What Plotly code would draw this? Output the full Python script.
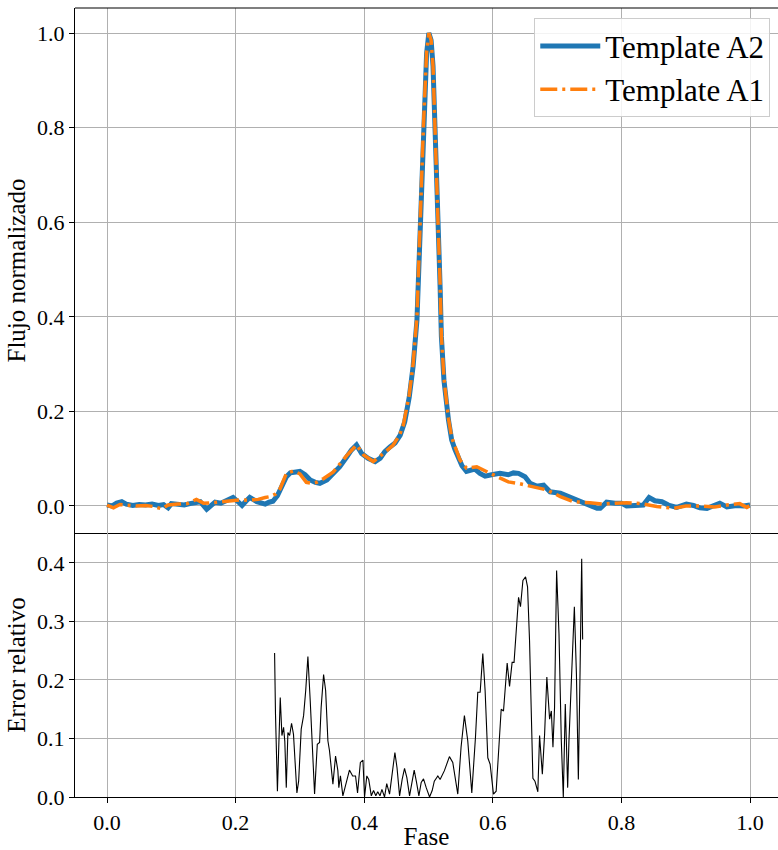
import plotly.graph_objects as go

# ---------------- data ----------------
phase_a2 = [0.000, 0.008, 0.015, 0.023, 0.030, 0.040, 0.050, 0.060, 0.070, 0.080,
            0.088, 0.095, 0.100, 0.110, 0.120, 0.129, 0.137, 0.145, 0.155, 0.162,
            0.168, 0.177, 0.186, 0.196, 0.203, 0.210, 0.216, 0.222, 0.233, 0.240,
            0.246, 0.252, 0.258, 0.265, 0.272, 0.279, 0.285, 0.290, 0.300, 0.308,
            0.316, 0.324, 0.331, 0.342, 0.352, 0.362, 0.373, 0.380, 0.388, 0.396,
            0.406, 0.417, 0.425, 0.432, 0.440, 0.448, 0.456, 0.463, 0.470, 0.476,
            0.482, 0.484, 0.487, 0.489, 0.492, 0.4946, 0.497, 0.5005, 0.504, 0.507,
            0.510, 0.513, 0.515, 0.518, 0.520, 0.524, 0.531, 0.536, 0.541, 0.546,
            0.552, 0.559, 0.567, 0.572, 0.580, 0.588, 0.598, 0.611, 0.624, 0.632,
            0.640, 0.650, 0.658, 0.668, 0.679, 0.689, 0.705, 0.720, 0.736, 0.751,
            0.762, 0.767, 0.777, 0.790, 0.800, 0.808, 0.824, 0.834, 0.843, 0.852,
            0.863, 0.873, 0.886, 0.901, 0.912, 0.922, 0.933, 0.943, 0.953, 0.964,
            0.979, 0.990, 1.000]
flux_a2 = [0.002, 0.000, 0.006, 0.009, 0.004, 0.001, 0.003, 0.002, 0.004, 0.001,
           0.003, -0.004, 0.005, 0.003, 0.002, 0.005, 0.006, 0.009, -0.007, 0.003,
           0.008, 0.006, 0.011, 0.018, 0.010, 0.001, 0.010, 0.018, 0.009, 0.006,
           0.004, 0.008, 0.010, 0.022, 0.041, 0.062, 0.070, 0.071, 0.073, 0.066,
           0.055, 0.050, 0.048, 0.055, 0.069, 0.083, 0.104, 0.118, 0.129, 0.111,
           0.101, 0.094, 0.101, 0.115, 0.125, 0.133, 0.150, 0.178, 0.230, 0.295,
           0.393, 0.464, 0.577, 0.675, 0.795, 0.886, 0.957, 1.000, 0.985, 0.930,
           0.816, 0.710, 0.590, 0.464, 0.358, 0.266, 0.182, 0.140, 0.120, 0.105,
           0.085, 0.073, 0.076, 0.078, 0.069, 0.063, 0.066, 0.069, 0.066, 0.070,
           0.069, 0.062, 0.048, 0.042, 0.044, 0.030, 0.027, 0.018, 0.009, 0.000,
           -0.005, -0.005, 0.008, 0.006, 0.006, 0.000, 0.000, 0.002, 0.018, 0.011,
           0.009, 0.002, -0.003, 0.004, 0.001, -0.004, -0.005, 0.000, 0.006, -0.002,
           0.001, 0.000, 0.002]

phase_a1 = [0.000, 0.010, 0.020, 0.030, 0.045, 0.060, 0.072, 0.085, 0.095, 0.110,
            0.125, 0.139, 0.150, 0.165, 0.180, 0.195, 0.207, 0.220, 0.235, 0.246,
            0.254, 0.262, 0.269, 0.279, 0.290, 0.300, 0.310, 0.318, 0.326, 0.337,
            0.352, 0.373, 0.388, 0.399, 0.414, 0.430, 0.445, 0.455, 0.461, 0.470,
            0.476, 0.482, 0.484, 0.487, 0.489, 0.492, 0.4946, 0.497, 0.5005, 0.504,
            0.507, 0.510, 0.513, 0.515, 0.518, 0.520, 0.524, 0.531, 0.536, 0.541,
            0.549, 0.559, 0.575, 0.590, 0.606, 0.624, 0.642, 0.663, 0.684, 0.705,
            0.725, 0.751, 0.772, 0.790, 0.808, 0.830, 0.855, 0.881, 0.900, 0.925,
            0.945, 0.964, 0.984, 0.995, 1.000]
flux_a1 = [0.002, -0.004, 0.003, 0.002, 0.000, 0.001, -0.001, -0.006, 0.002, 0.004,
           0.005, 0.014, 0.006, 0.007, 0.009, 0.012, 0.013, 0.012, 0.014, 0.018,
           0.020, 0.025, 0.036, 0.069, 0.074, 0.068, 0.050, 0.048, 0.050, 0.058,
           0.072, 0.107, 0.129, 0.108, 0.094, 0.111, 0.129, 0.150, 0.172, 0.235,
           0.300, 0.400, 0.470, 0.580, 0.680, 0.800, 0.890, 0.960, 1.000, 0.985,
           0.930, 0.820, 0.710, 0.590, 0.470, 0.360, 0.270, 0.185, 0.145, 0.126,
           0.097, 0.080, 0.083, 0.073, 0.063, 0.051, 0.047, 0.040, 0.034, 0.020,
           0.009, 0.007, 0.004, 0.006, 0.007, 0.005, -0.001, -0.005, 0.000, 0.000,
           -0.002, 0.002, 0.005, -0.003, 0.001]

phase_err = [0.2606, 0.262, 0.265, 0.2694, 0.272, 0.2746, 0.2765, 0.2788, 0.2813, 0.284,
             0.287, 0.290, 0.2953, 0.298, 0.302, 0.3057, 0.309, 0.3124, 0.316, 0.3228,
             0.327, 0.3306, 0.333, 0.3368, 0.340, 0.3435, 0.346, 0.3513, 0.3554, 0.359,
             0.3605, 0.363, 0.3668, 0.371, 0.377, 0.382, 0.3865, 0.3896, 0.394, 0.398,
             0.4005, 0.404, 0.407, 0.411, 0.4145, 0.418, 0.421, 0.4245, 0.4275, 0.4316,
             0.435, 0.4394, 0.4435, 0.4477, 0.451, 0.455, 0.459, 0.4627, 0.4663, 0.4705,
             0.4746, 0.4777, 0.481, 0.485, 0.4886, 0.4922, 0.4964, 0.5016, 0.5057, 0.509,
             0.5145, 0.518, 0.5247, 0.5325, 0.5377, 0.5455, 0.5506, 0.5558, 0.561, 0.5673,
             0.573, 0.5766, 0.5803, 0.5844, 0.588, 0.5922, 0.5958, 0.601, 0.6052, 0.6094,
             0.613, 0.6166, 0.6197, 0.6223, 0.626, 0.630, 0.633, 0.6364, 0.640, 0.643,
             0.6468, 0.6509, 0.654, 0.6571, 0.660, 0.6623, 0.6655, 0.670, 0.6727, 0.677,
             0.6805, 0.684, 0.6883, 0.691, 0.6935, 0.696, 0.6992, 0.7029, 0.7065, 0.7096,
             0.7127, 0.7164, 0.7184, 0.7226, 0.7268, 0.730, 0.733, 0.7356, 0.7382, 0.7397]
err = [0.246, 0.142, 0.010, 0.170, 0.105, 0.119, 0.095, 0.016, 0.110, 0.105,
       0.126, 0.107, 0.007, 0.027, 0.116, 0.139, 0.182, 0.240, 0.165, 0.005,
       0.090, 0.093, 0.153, 0.209, 0.182, 0.096, 0.079, 0.022, 0.070, 0.045,
       0.016, 0.036, 0.002, 0.022, 0.046, 0.036, 0.036, 0.007, 0.059, 0.063,
       0.000, 0.036, 0.030, 0.002, 0.011, 0.002, 0.009, 0.002, 0.013, 0.000,
       0.023, 0.005, 0.045, 0.076, 0.050, 0.002, 0.030, 0.049, 0.033, 0.002,
       0.027, 0.046, 0.027, 0.002, 0.025, 0.031, 0.016, 0.000, 0.011, 0.027,
       0.036, 0.030, 0.045, 0.069, 0.059, 0.005, 0.085, 0.139, 0.096, 0.007,
       0.102, 0.179, 0.179, 0.245, 0.182, 0.067, 0.056, 0.005, 0.010, 0.085,
       0.150, 0.147, 0.193, 0.229, 0.189, 0.230, 0.230, 0.287, 0.341, 0.325,
       0.370, 0.376, 0.359, 0.267, 0.125, 0.032, 0.027, 0.009, 0.105, 0.039,
       0.107, 0.205, 0.133, 0.147, 0.085, 0.153, 0.387, 0.279, 0.096, 0.000,
       0.159, 0.016, 0.096, 0.227, 0.325, 0.210, 0.030, 0.210, 0.407, 0.269]

x_ticks = [0.0, 0.2, 0.4, 0.6, 0.8, 1.0]
y1_ticks = [0.0, 0.2, 0.4, 0.6, 0.8, 1.0]
y2_ticks = [0.0, 0.1, 0.2, 0.3, 0.4]

# ---------------- figure ----------------
FONT = "'Liberation Serif', 'DejaVu Serif', serif"
fig = go.Figure()

fig.add_trace(go.Scatter(x=phase_a2, y=flux_a2, mode="lines", name="Template A2",
                         line=dict(color="#1f77b4", width=5), xaxis="x", yaxis="y"))
fig.add_trace(go.Scatter(x=phase_a1, y=flux_a1, mode="lines", name="Template A1",
                         line=dict(color="#ff7f0e", width=3.5, dash="17px,5px,3px,5px"),
                         xaxis="x", yaxis="y"))
fig.add_trace(go.Scatter(x=phase_err, y=err, mode="lines", showlegend=False,
                         line=dict(color="black", width=1.1), xaxis="x2", yaxis="y2"))

H = 850
top, bot = 8, 797
split = 533
ph = bot - top
d_split = (bot - split) / ph

axis_common = dict(showgrid=True, gridcolor="#b0b0b0", gridwidth=1, zeroline=False,
                   showline=True, linecolor="black", linewidth=1.2, automargin=False,
                   ticks="outside", ticklen=5, tickcolor="black", tickwidth=1,
                   tickfont=dict(family=FONT, size=22, color="black"))

xr = [-0.0498, 1.0435]
fig.update_layout(
    width=778, height=H,
    margin=dict(l=75, r=0, t=top, b=H - bot),
    plot_bgcolor="white", paper_bgcolor="white",
    font=dict(family=FONT, color="black"),
    xaxis=dict(axis_common, range=xr, domain=[0, 1], anchor="y", tickvals=x_ticks,
               showticklabels=False),
    yaxis=dict(axis_common, range=[-0.0571, 1.0529], domain=[d_split, 1], anchor="x",
               tickvals=y1_ticks, ticktext=[f"{v:.1f}" for v in y1_ticks],
               title=dict(text="Flujo normalizado", font=dict(family=FONT, size=25), standoff=4)),
    xaxis2=dict(axis_common, range=xr, domain=[0, 1], anchor="y2", matches="x",
                tickvals=x_ticks, ticktext=[f"{v:.1f}" for v in x_ticks],
                title=dict(text="Fase", font=dict(family=FONT, size=25), standoff=4)),
    yaxis2=dict(axis_common, range=[0, 0.451], domain=[0, d_split], anchor="x2",
                tickvals=y2_ticks, ticktext=[f"{v:.1f}" for v in y2_ticks],
                title=dict(text="Error relativo", font=dict(family=FONT, size=25), standoff=4)),
    legend=dict(x=0.989, y=0.987, xanchor="right", yanchor="top",
                bgcolor="rgba(255,255,255,0.85)", bordercolor="#cccccc", borderwidth=1,
                font=dict(family=FONT, size=31, color="black"), itemwidth=60,
                tracegroupgap=4),
    showlegend=True,
)

# top border line of the upper panel
fig.add_shape(type="line", xref="paper", yref="paper", x0=0, x1=1, y0=1, y1=1,
              line=dict(color="black", width=1.2))

fig.write_html("out.html")
